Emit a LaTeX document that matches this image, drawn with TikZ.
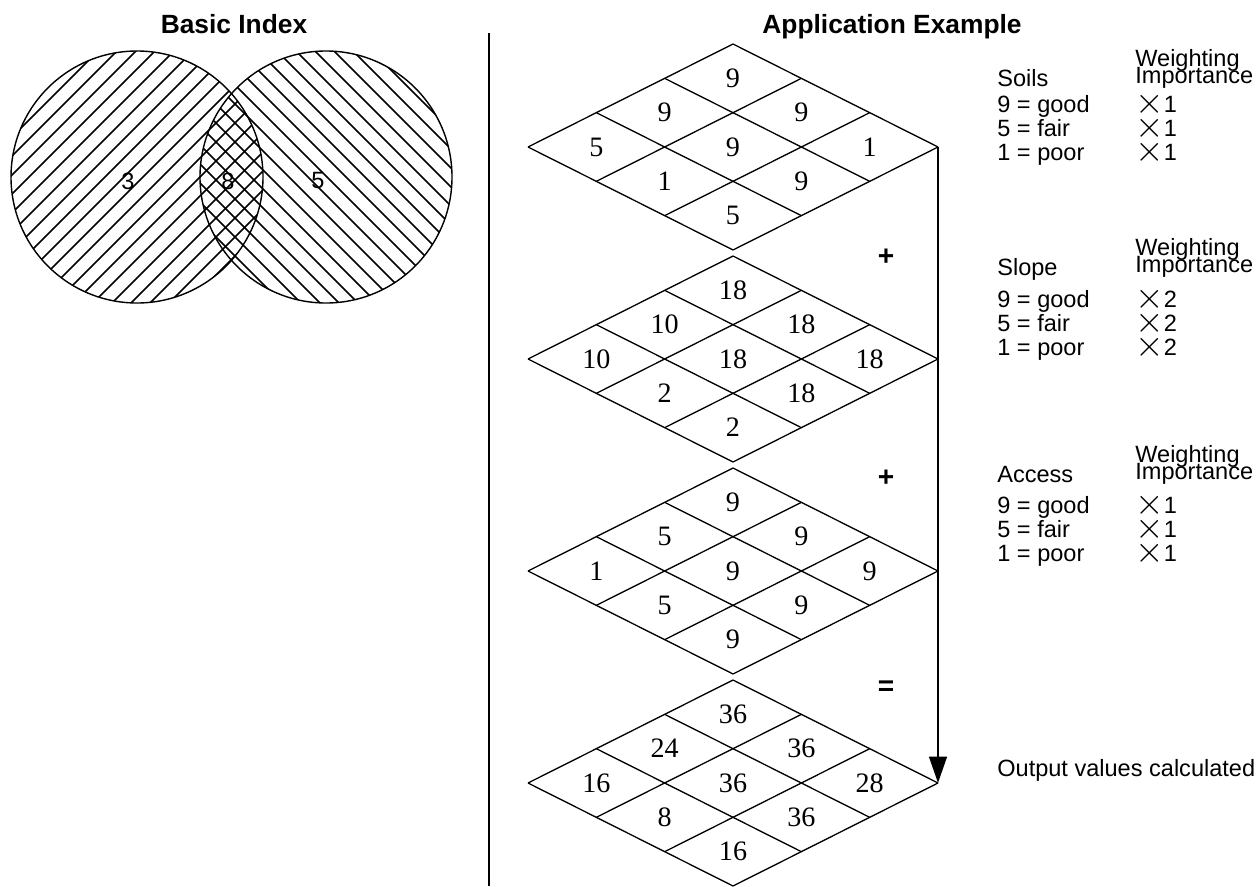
\documentclass[tikz,border=0pt]{standalone}
\usepackage{fontspec}
\setmainfont{Liberation Sans}
\newfontfamily\cellfont{Liberation Serif}
\usetikzlibrary{arrows.meta,calc}

\newcommand{\bigtimes}{\raisebox{-0.05em}[0.7em][0pt]{\scalebox{1.45}{$\times$}}}

\newcommand{\scoregrid}[3]{%
  \coordinate (#1t) at (733,#2-103);
  \coordinate (#1r) at (938,#2);
  \foreach \k in {0,...,3}{
    \draw[gridline] ($(#1t)+(68.33*\k,34.33*\k)$) -- ++(-205,103);
    \draw[gridline] ($(#1t)+(-68.33*\k,34.33*\k)$) -- ++(205,103);
  }
  \foreach \i/\j/\v in {#3}
    \node[cellnum] (#1c\i\j) at ($(#1t)+({68.33*(\i-\j)},{34.33*(\i+\j+1)})$) {\v};
}

\newcommand{\factorblock}[5]{%
  \node[txt] (#1) at (997,#2) {#4};
  \node[txt] (#1imp) at (1135,#2-3) {Importance};
  \node[txt] (#1wt) at (1135,#2-20) {Weighting};
  \foreach \q/\w [count=\n] in {9/good,5/fair,1/poor}{
    \node[txt] (#1v\n) at (997,{#3+24*(\n-1)}) {\q\ = \w};
    \node[txt] (#1f\n) at (1135,{#3+24*(\n-1)}) {\bigtimes#5};
  }
}

\begin{document}
\begin{tikzpicture}[x=0.02cm, y=-0.02cm,
    headtext/.style={font=\fontsize{15}{18}\selectfont\bfseries, inner sep=0, anchor=base},
    txt/.style={font=\fontsize{13.4}{16}\selectfont, inner sep=0, anchor=base west},
    venntxt/.style={font=\fontsize{13.4}{16}\selectfont, inner sep=0},
    cellnum/.style={font=\cellfont\fontsize{16}{18}\selectfont, inner sep=0},
    opsign/.style={font=\fontsize{16}{18}\selectfont\bfseries, inner sep=0},
    gridline/.style={line width=0.75pt, line join=miter},
    hatch/.style={line width=0.85pt},
    ring/.style={line width=0.8pt},
    sepline/.style={line width=0.6pt},
    flowarrow/.style={-{Triangle[length=15pt,width=10pt]}, line width=1.5pt}
]
\useasboundingbox (0,0) rectangle (1260,886);

\node[headtext] (basic) at (234,33) {Basic Index};
\node[headtext] (app) at (892,33) {Application Example};

\begin{scope}
  \clip (137,177) circle (126);
  \foreach \c in {130,149,...,510}
    \draw[hatch] ({\c/2-200},{\c/2+200}) -- ({\c/2+200},{\c/2-200});
\end{scope}
\begin{scope}
  \clip (326,177) circle (126);
  \foreach \c in {-340,-321,...,40}
    \draw[hatch] ({(503-\c)/2-200},{(503+\c)/2-200}) -- ({(503-\c)/2+200},{(503+\c)/2+200});
\end{scope}
\draw[ring] (137,177) circle (126);
\draw[ring] (326,177) circle (126);
\node[venntxt] (lonly) at (128,181) {3};
\node[venntxt] (both) at (228,181) {8};
\node[venntxt] (ronly) at (318,181) {5};

\coordinate (septop) at (489,33);
\coordinate (sepbot) at (489,886);
\draw[sepline] (septop) -- (sepbot);

\scoregrid{soilgrid}{147}{0/0/9,0/1/9,1/0/9,0/2/5,1/1/9,2/0/1,1/2/1,2/1/9,2/2/5}
\scoregrid{slopegrid}{359}{0/0/18,0/1/10,1/0/18,0/2/10,1/1/18,2/0/18,1/2/2,2/1/18,2/2/2}
\scoregrid{accessgrid}{571}{0/0/9,0/1/5,1/0/9,0/2/1,1/1/9,2/0/9,1/2/5,2/1/9,2/2/9}
\scoregrid{outgrid}{783}{0/0/36,0/1/24,1/0/36,0/2/16,1/1/36,2/0/28,1/2/8,2/1/36,2/2/16}

\draw[flowarrow] (soilgridr) -- (outgridr);

\node[opsign] (plus1) at (886,257) {+};
\node[opsign] (plus2) at (886,478) {+};
\node[opsign] (equals) at (886,688) {=};

\factorblock{soils}{86}{112}{Soils}{1}
\factorblock{slope}{275}{307}{Slope}{2}
\factorblock{access}{482}{513}{Access}{1}

\node[txt] (outtxt) at (997,776) {Output values calculated};

\end{tikzpicture}
\end{document}
